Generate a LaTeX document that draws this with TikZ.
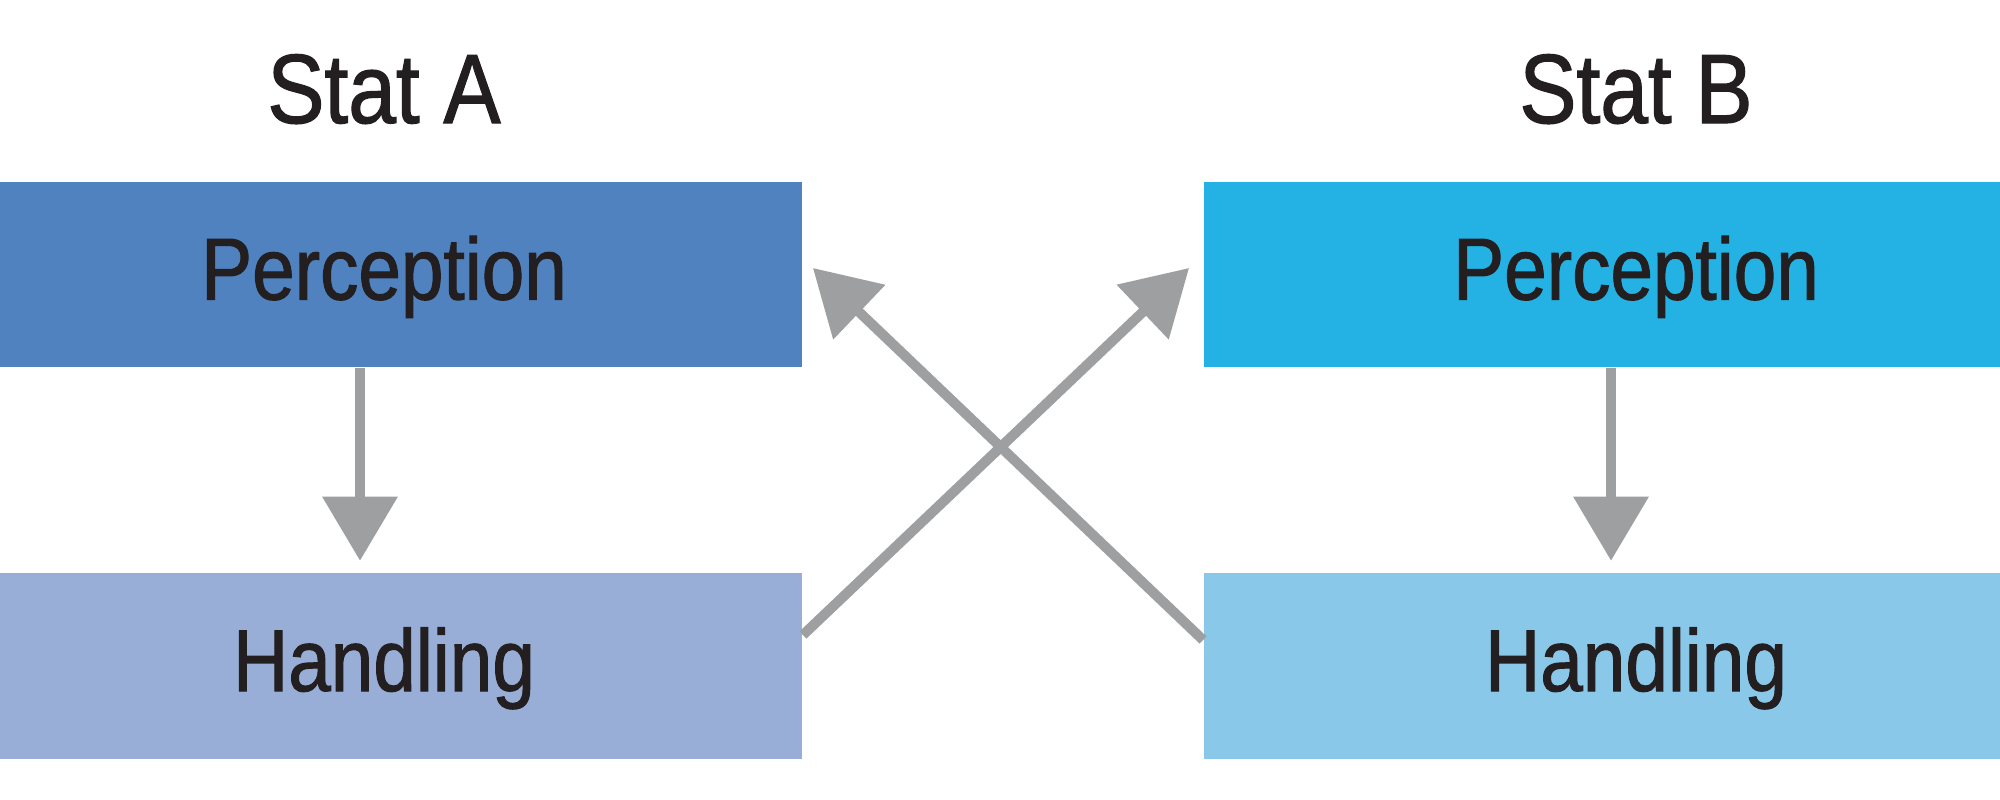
\documentclass[tikz,border=0pt]{standalone}
\usepackage{fontspec}
\setmainfont{Liberation Sans}[FakeStretch=0.87,FakeBold=1.2]
\usetikzlibrary{arrows.meta,calc}
\definecolor{percA}{HTML}{4F82BE}
\definecolor{handA}{HTML}{98AED6}
\definecolor{percB}{HTML}{23B2E3}
\definecolor{handB}{HTML}{8AC8EA}
\definecolor{arrgray}{HTML}{9E9FA1}
\definecolor{txt}{HTML}{231F20}
\tikzset{
  box/.style={rectangle, inner sep=0pt, minimum height=1.85cm, text=txt,
    font=\fontsize{25pt}{30pt}\selectfont, text height=0.64cm, text depth=0.14cm},
  title/.style={anchor=base, inner sep=0pt, text=txt, font=\fontsize{28pt}{34pt}\selectfont},
  arr/.style={draw=arrgray, line width=0.1cm, -{Triangle[width=0.73cm,length=0.64cm]}, fill=arrgray}
}
\begin{document}
\begin{tikzpicture}[x=0.01cm,y=-0.01cm]
\useasboundingbox (0,0) rectangle (2000,800);
\fill[white] (0,0) rectangle (2000,800);
\begin{scope}
\clip (0,0) rectangle (2000,800);
\node[box, fill=percA, minimum width=8.36cm] (pA) at (384,274.5) {Perception};
\node[box, fill=handA, minimum width=8.36cm] (hA) at (384,666) {Handling};
\node[box, fill=percB, minimum width=8.64cm] (pB) at (1636,274.5) {Perception};
\node[box, fill=handB, minimum width=8.64cm] (hB) at (1636,666) {Handling};
\end{scope}
\node[title] (sA) at (384,123) {Stat A};
\node[title] (sB) at (1636,123) {Stat B};
\draw[arr] ($(pA.south)+(-24,0)$) -- ($(hA.north)+(-24,-12)$);
\draw[arr] ($(pB.south)+(-25,0)$) -- ($(hB.north)+(-25,-12)$);
\draw[arr] ($(hA.east)+(0,-31)$) -- ($(pB.west)+(-14,-6.5)$);
\draw[arr] ($(hB.west)+(0,-26)$) -- ($(pA.east)+(10,-6.5)$);
\end{tikzpicture}
\end{document}
